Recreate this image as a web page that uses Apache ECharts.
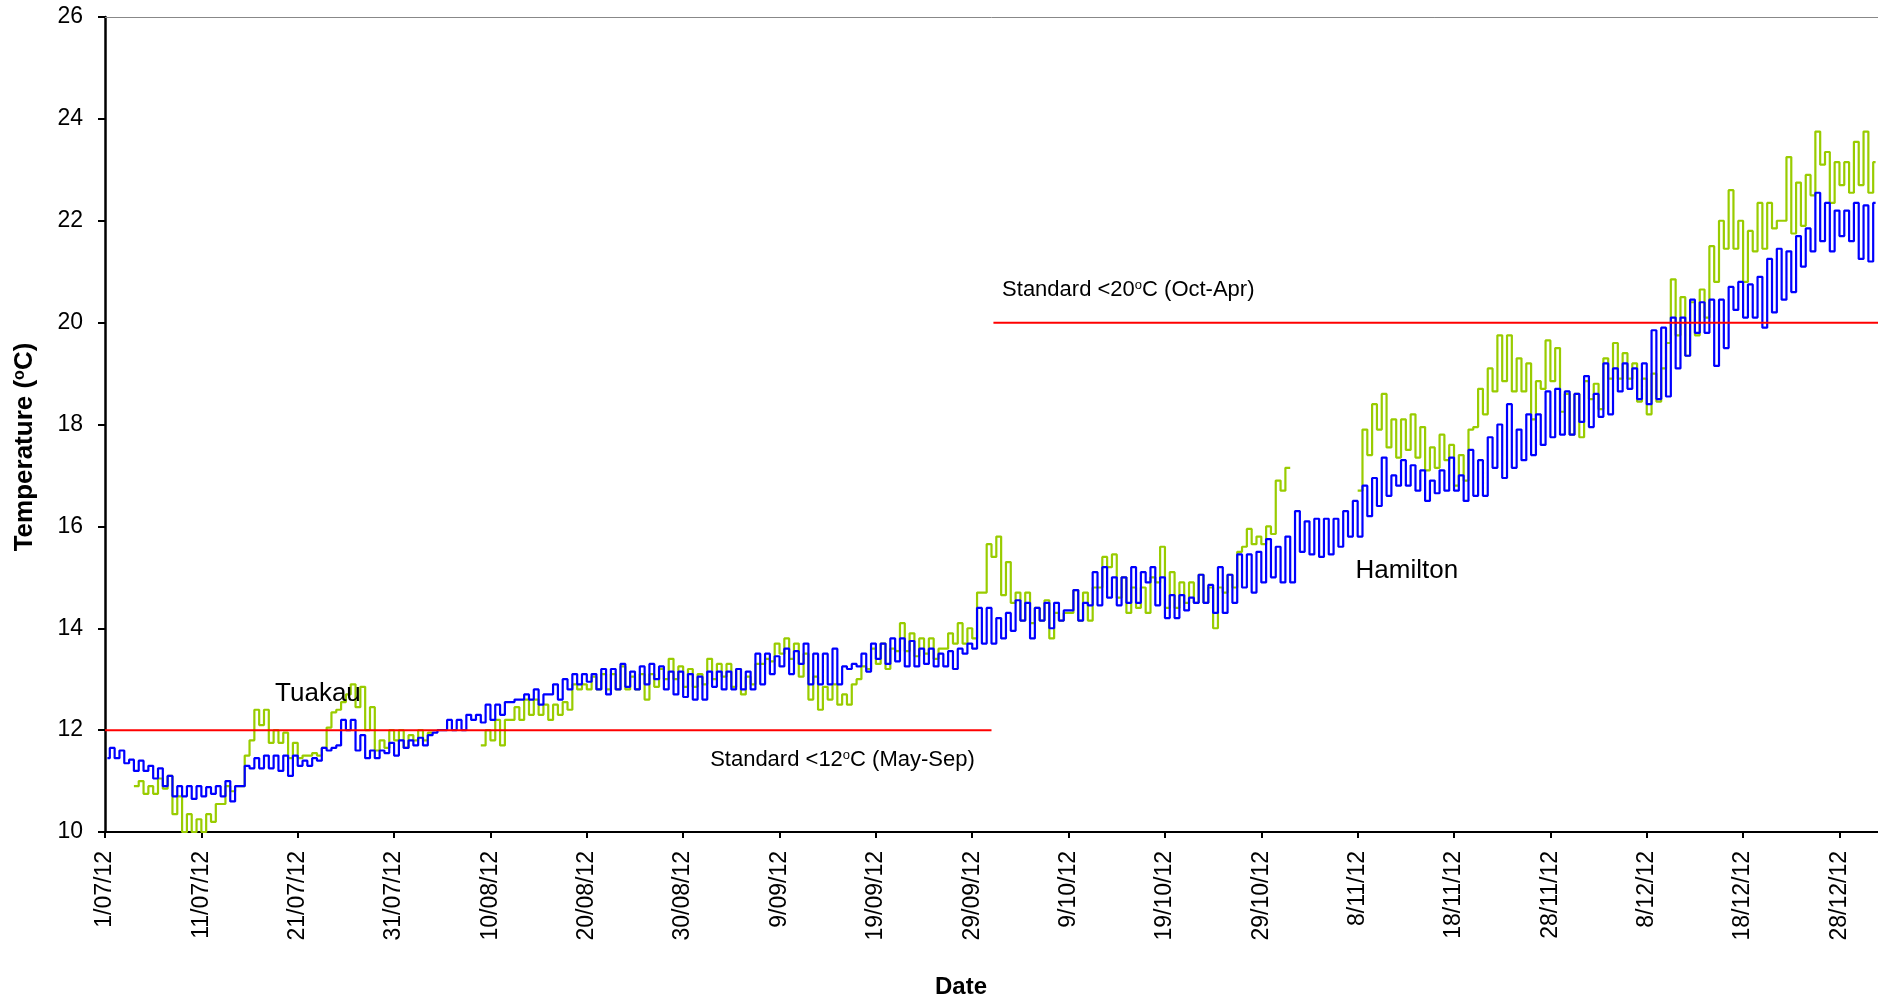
<!DOCTYPE html>
<html>
<head>
<meta charset="utf-8">
<script src="https://cdn.jsdelivr.net/npm/echarts@6/dist/echarts.min.js"></script>
<style>
html,body{margin:0;padding:0;background:#fff;}
#chart{width:1878px;height:1002px;}
</style>
</head>
<body>
<div id="chart"></div>
<script>
// ---- data (day index counted from 1 July 2012) ----
const tickLabels = ['1/07/12','11/07/12','21/07/12','31/07/12','10/08/12','20/08/12','30/08/12','9/09/12','19/09/12','29/09/12','9/10/12','19/10/12','29/10/12','8/11/12','18/11/12','28/11/12','8/12/12','18/12/12','28/12/12'];

// Hamilton daily minimum / maximum (deg C)
const hamiltonLow = [
11.45,11.45,11.35,11.2,11.2,11.05,10.9,10.7,10.7,10.65,
10.7,10.75,10.7,10.6,10.9,11.25,11.25,11.25,11.2,11.1,
11.3,11.3,11.4,11.6,11.7,12.0,11.6,11.45,11.45,11.55,
11.5,11.65,11.7,11.7,11.95,12.0,12.0,12.0,12.2,12.15,
12.2,12.3,12.55,12.6,12.6,12.5,12.7,12.6,12.8,12.9,
12.95,12.8,12.7,12.8,12.85,12.8,12.9,13.0,12.8,12.7,
12.65,12.6,12.6,12.85,12.8,12.8,12.8,12.8,12.9,13.1,
13.25,13.1,13.3,12.9,12.9,12.9,12.9,13.2,13.25,13.15,
13.4,13.3,13.35,13.25,13.25,13.3,13.25,13.25,13.2,13.5,
13.6,13.7,13.7,13.8,13.95,14.15,13.8,14.15,14.0,14.15,
14.35,14.15,14.45,14.45,14.6,14.45,14.5,14.5,14.9,14.45,
14.2,14.2,14.35,14.5,14.5,14.3,14.3,14.5,14.8,14.7,
14.9,15.0,14.9,14.9,15.5,15.45,15.4,15.45,15.6,15.8,
15.8,16.2,16.4,16.6,16.8,16.8,16.7,16.5,16.65,16.7,
16.7,16.5,16.6,16.6,17.15,16.95,17.15,17.3,17.4,17.6,
17.75,17.8,17.8,18.05,17.95,18.15,18.2,18.65,18.7,18.5,
18.4,18.5,18.55,19.1,19.35,19.8,19.8,19.15,19.5,20.25,
20.1,20.1,19.9,20.2,20.45,20.6,21.1,21.4,21.6,21.4,
21.7,21.6,21.25,21.2
];
const hamiltonHigh = [
11.65,11.6,11.42,11.4,11.3,11.25,11.1,10.9,10.9,10.9,
10.88,10.9,11.0,10.9,11.3,11.45,11.5,11.5,11.5,11.5,
11.4,11.45,11.65,11.65,12.2,12.2,11.9,11.6,11.6,11.75,
11.8,11.8,11.85,11.9,12.0,12.2,12.2,12.3,12.3,12.5,
12.5,12.55,12.6,12.7,12.8,12.7,12.9,13.0,13.1,13.1,
13.1,13.2,13.2,13.3,13.15,13.25,13.3,13.25,13.15,13.15,
13.1,13.05,13.15,13.15,13.15,13.2,13.15,13.5,13.5,13.45,
13.6,13.55,13.7,13.5,13.5,13.6,13.25,13.3,13.5,13.7,
13.7,13.8,13.8,13.75,13.6,13.6,13.5,13.55,13.6,13.7,
14.4,14.4,14.2,14.3,14.55,14.5,14.4,14.5,14.5,14.35,
14.75,14.5,15.1,15.2,15.0,15.0,15.2,15.1,15.2,15.0,
14.65,14.65,14.6,15.05,14.85,15.2,15.05,15.45,15.45,15.5,
15.75,15.6,15.8,16.3,16.1,16.15,16.15,16.15,16.3,16.5,
16.8,16.95,17.35,17.0,17.3,17.2,17.1,16.9,17.1,17.35,
17.0,17.5,17.3,17.75,18.0,18.4,17.9,18.2,18.2,18.65,
18.7,18.65,18.6,18.95,18.6,19.2,19.1,19.2,19.1,19.2,
19.85,19.9,20.1,20.1,20.45,20.4,20.45,20.45,20.7,20.8,
20.75,20.9,21.25,21.45,21.4,21.7,21.85,22.55,22.35,22.2,
22.2,22.35,22.3,22.35
];

// Tuakau daily minimum / maximum (deg C), null = no record
const tuakauLow = [
null,null,null,10.9,10.75,10.75,10.85,10.35,10.0,10.0,
10.0,10.2,10.55,10.8,10.9,11.8,12.1,11.75,11.75,11.45,
11.45,11.5,11.5,12.05,12.4,12.7,12.45,12.0,11.6,11.65,
11.8,11.65,11.8,11.8,null,null,null,null,null,11.7,
11.8,11.7,12.2,12.2,12.3,12.3,12.2,12.3,12.4,12.8,
12.8,12.8,12.8,12.8,12.8,12.8,12.6,12.85,13.0,13.0,
12.85,12.85,12.9,13.0,13.05,12.85,12.7,12.9,13.3,13.35,
13.5,13.4,13.05,12.6,12.4,12.6,12.5,12.5,13.0,13.2,
13.3,13.2,13.55,13.55,13.45,13.5,13.4,13.6,13.7,13.7,
13.8,14.7,15.4,14.65,14.5,14.15,14.1,14.15,13.8,14.15,
14.3,14.15,14.15,14.8,15.2,14.6,14.3,14.4,14.3,14.9,
14.4,14.4,14.5,14.5,14.5,14.0,14.7,14.8,15.6,15.65,
15.65,15.85,16.7,null,null,null,null,null,null,null,
16.7,17.4,17.9,17.55,17.35,17.5,17.35,17.1,17.15,17.3,
16.8,16.9,17.95,18.2,18.65,18.85,18.65,18.65,18.1,18.7,
18.85,18.25,17.8,17.75,18.5,18.3,18.9,18.9,18.9,18.45,
18.2,18.45,19.6,19.75,19.35,19.75,20.1,20.8,21.45,21.45,
20.8,21.4,21.45,21.85,22.0,21.75,21.9,22.5,23.1,22.35,
22.7,22.55,22.7,22.55
];
const tuakauHigh = [
null,null,null,11.0,10.9,11.05,11.1,10.7,10.35,10.25,
10.35,10.55,10.9,10.9,11.5,12.4,12.4,12.0,11.95,11.75,
11.5,11.55,11.65,12.35,12.55,12.9,12.85,12.45,11.8,12.0,
12.0,11.9,12.0,11.95,null,null,null,null,null,12.0,
12.2,12.2,12.45,12.6,12.6,12.5,12.5,12.55,12.9,12.9,
13.05,13.1,13.1,13.25,13.05,13.1,13.1,13.2,13.4,13.25,
13.2,13.1,13.4,13.3,13.3,13.2,13.05,13.3,13.4,13.7,
13.8,13.7,13.5,13.05,12.85,12.9,12.7,12.9,13.25,13.6,
13.7,13.6,14.1,13.9,13.8,13.8,13.6,13.9,14.1,14.0,
14.7,15.65,15.8,15.3,14.7,14.7,14.4,14.55,14.3,14.3,
14.75,14.7,14.8,15.4,15.45,15.0,14.8,14.8,15.0,15.6,
15.1,14.9,14.9,15.05,14.8,14.8,15.05,15.5,15.95,15.8,
16.0,16.9,17.15,null,null,null,null,null,null,null,
17.9,18.4,18.6,18.1,18.1,18.2,17.95,17.55,17.8,17.6,
17.4,17.9,18.7,19.1,19.75,19.75,19.3,19.2,18.85,19.65,
19.5,18.6,18.6,18.85,18.8,19.3,19.6,19.4,19.2,18.9,
19.0,19.1,20.85,20.5,20.4,20.65,21.5,22.0,22.6,22.0,
21.8,22.35,22.35,22.0,23.25,22.75,22.9,23.75,23.35,23.15,
23.15,23.55,23.75,23.15
];

// Temperature standards: start day, end day, limit
const standardStart = [0, 92.2];
const standardEnd = [92, 184];
const standardValue = [12, 20];

// ---- build series ----
function dailyPoints(low, high) {
  const pts = [];
  for (let i = 0; i < low.length; i++) {
    pts.push([i + 0.25, low[i]]);
    pts.push([i + 0.75, high[i]]);
  }
  return pts;
}
const FONT = "'Liberation Sans', Arial, sans-serif";

const chart = echarts.init(document.getElementById('chart'));
const series = [
  {
    name: 'Tuakau', type: 'line', step: 'middle', showSymbol: false, symbol: 'none',
    data: dailyPoints(tuakauLow, tuakauHigh), connectNulls: false,
    lineStyle: { color: '#99CC00', width: 2.2 }, itemStyle: { color: '#99CC00' },
    animation: false, z: 3
  },
  {
    name: 'Hamilton', type: 'line', step: 'middle', showSymbol: false, symbol: 'none',
    data: dailyPoints(hamiltonLow, hamiltonHigh),
    lineStyle: { color: '#0000FF', width: 2.2 }, itemStyle: { color: '#0000FF' },
    animation: false, z: 4
  }
];
standardValue.forEach(function (v, i) {
  series.push({
    type: 'line', symbol: 'none', showSymbol: false, animation: false, z: 5,
    data: [[standardStart[i], v], [standardEnd[i], v]],
    lineStyle: { color: '#FF0000', width: 2 }
  });
});

chart.setOption({
  animation: false,
  backgroundColor: '#ffffff',
  grid: { left: 105, right: 0, top: 17, bottom: 170, containLabel: false },
  xAxis: [
    {
      type: 'value', min: 0, max: 184, interval: 10,
      axisLine: { show: true, onZero: false, lineStyle: { color: '#000', width: 2 } },
      axisTick: { show: true, length: 6, lineStyle: { color: '#000', width: 2 } },
      splitLine: { show: false },
      axisLabel: {
        rotate: 90, margin: 19, color: '#000', fontSize: 23, fontFamily: FONT,
        showMaxLabel: false,
        formatter: function (v) {
          const k = Math.round(v / 10);
          if (Math.abs(v - k * 10) > 1e-6) return '';
          return tickLabels[k] || '';
        }
      }
    },
    {
      type: 'value', position: 'top', min: 0, max: 184,
      axisLine: { show: true, onZero: false, lineStyle: { color: '#888', width: 1 } },
      axisTick: { show: false }, axisLabel: { show: false }, splitLine: { show: false }
    }
  ],
  yAxis: {
    type: 'value', min: 10, max: 26, interval: 2,
    axisLine: { show: true, lineStyle: { color: '#000', width: 2.5 } },
    axisTick: { show: true, length: 7, lineStyle: { color: '#000', width: 2 } },
    splitLine: { show: false },
    axisLabel: { margin: 22, color: '#000', fontSize: 23, fontFamily: FONT }
  },
  series: series
});

// ---- text annotations anchored in data coordinates ----
const supRich = function (size) {
  return {
    n: { fontSize: size, fontFamily: FONT, fill: '#000', color: '#000' },
    s: { fontSize: Math.round(size * 0.6), fontFamily: FONT, fill: '#000', color: '#000', verticalAlign: 'top' }
  };
};
const annotations = [
  { text: 'Tuakau', at: [22.1, 12.72], align: 'center', size: 26 },
  { text: 'Hamilton', at: [135.1, 15.12], align: 'center', size: 26 },
  { text: '{n|Standard <20}{s|o}{n|C (Oct-Apr)}', at: [93.1, 20.64], align: 'left', size: 22, rich: true },
  { text: '{n|Standard <12}{s|o}{n|C (May-Sep)}', at: [62.8, 11.41], align: 'left', size: 22, rich: true }
];
const graphics = annotations.map(function (a) {
  const p = chart.convertToPixel({ gridIndex: 0 }, a.at);
  const style = { text: a.text, fill: '#000', align: a.align, verticalAlign: 'middle', fontFamily: FONT, fontSize: a.size };
  if (a.rich) style.rich = supRich(a.size);
  return { type: 'text', x: p[0], y: p[1], z: 10, style: style };
});
graphics.push({
  type: 'text', x: 25, y: 447, rotation: Math.PI / 2, z: 10,
  style: {
    text: '{b|Temperature (}{bs|o}{b|C)}', align: 'center', verticalAlign: 'middle',
    rich: {
      b: { fontSize: 26, fontWeight: 'bold', fontFamily: FONT, fill: '#000' },
      bs: { fontSize: 16, fontWeight: 'bold', fontFamily: FONT, fill: '#000', verticalAlign: 'top' }
    }
  }
});
graphics.push({
  type: 'text', x: 961, y: 987, z: 10,
  style: { text: 'Date', align: 'center', verticalAlign: 'middle', fontSize: 24, fontWeight: 'bold', fontFamily: FONT, fill: '#000' }
});
chart.setOption({ graphic: graphics });
</script>
</body>
</html>
